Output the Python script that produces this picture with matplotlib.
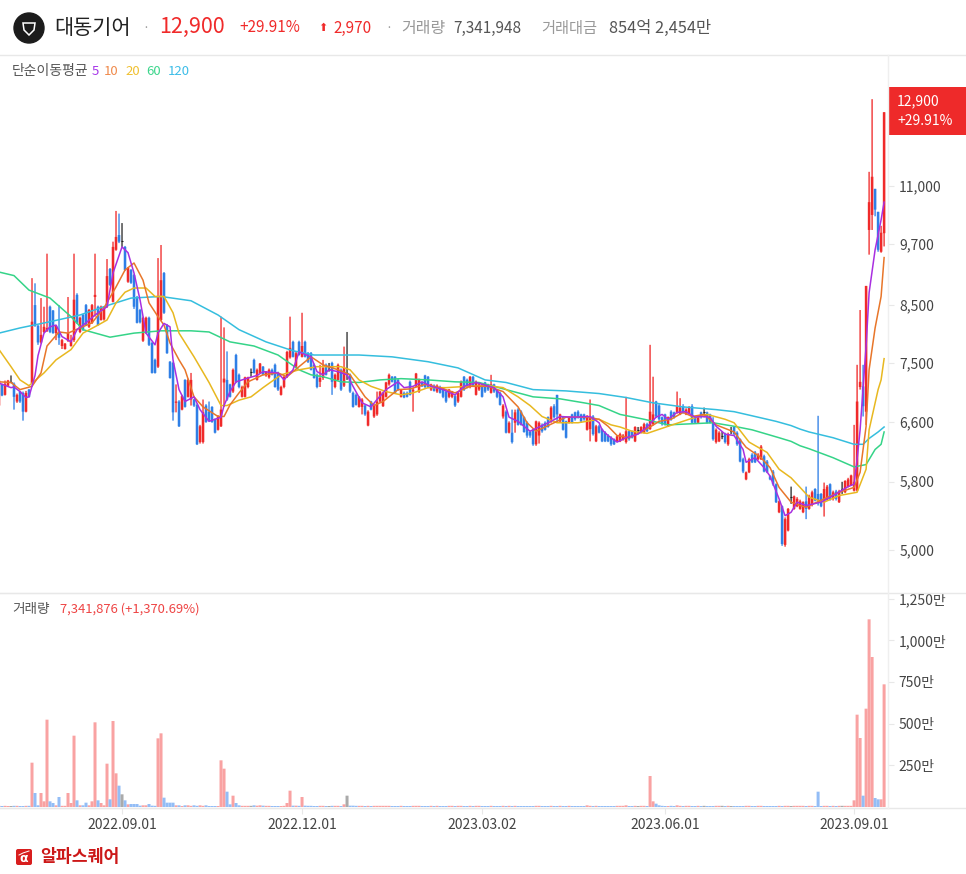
import matplotlib
matplotlib.use("Agg")
import matplotlib.pyplot as plt
from matplotlib.patches import Circle, FancyBboxPatch, Polygon, Rectangle
from matplotlib.transforms import ScaledTranslation
import numpy as np

plt.rcParams["font.family"] = ["Noto Sans CJK KR", "DejaVu Sans"]

opens = [
    6840, 7160, 7000, 7140, 7200, 7170, 6900, 7050, 7030, 6750,
    7080, 7180, 8500, 8130, 7840, 8020, 8040, 8470, 8400, 8000,
    8020, 7780, 7730, 7870, 7780, 7880, 8690, 8020, 8320, 8500,
    8110, 8180, 8650, 8470, 8230, 8240, 8470, 9190, 8560, 9580,
    9890, 9770, 9640, 8940, 9170, 9070, 8650, 8410, 7870, 8000,
    8270, 7830, 7550, 7440, 8230, 9110, 8140, 7520, 7500, 6880,
    6900, 6780, 7230, 6970, 6930, 6930, 6850, 6320, 6320, 6840,
    6750, 6820, 6640, 6490, 6540, 7190, 7230, 7160, 7050, 7630,
    7310, 6970, 6970, 7120, 7360, 7550, 7230, 7340, 7440, 7300,
    7270, 7390, 7470, 7340, 7000, 7120, 7290, 7590, 7850, 7440,
    7850, 7600, 7850, 7660, 7660, 7470, 7310, 7200, 7260, 7470,
    7410, 7500, 7120, 7230, 7390, 7140, 7340, 7310, 7030, 7000,
    6820, 6820, 6840, 6550, 6900, 6680, 6710, 6900, 6830, 6970,
    7160, 7280, 7280, 7230, 6970, 7030, 7030, 7200, 7050, 7130,
    7050, 7190, 7300, 7280, 7080, 7140, 7050, 7120, 7110, 7050,
    6970, 6970, 6980, 6900, 6970, 7280, 7230, 7120, 7280, 7000,
    7080, 7160, 7190, 7160, 7030, 7160, 7080, 7030, 6680, 6750,
    6450, 6450, 6590, 6780, 6750, 6670, 6590, 6460, 6490, 6290,
    6410, 6560, 6590, 6670, 6610, 6830, 7000, 6610, 6670, 6610,
    6590, 6710, 6740, 6750, 6710, 6710, 6490, 6500, 6680, 6330,
    6540, 6500, 6450, 6410, 6380, 6360, 6330, 6330, 6360, 6320,
    6470, 6470, 6330, 6490, 6450, 6450, 6570, 6500, 6570, 6900,
    6840, 6670, 6710, 6540, 6750, 6740, 6740, 6710, 6830, 6710,
    6720, 6830, 6670, 6590, 6740, 6750, 6740, 6710, 6590, 6320,
    6330, 6400, 6430, 6290, 6470, 6530, 6450, 6360, 6090, 5830,
    5920, 6150, 6180, 6090, 6090, 6130, 6060, 5870, 5930, 5770,
    5430, 5500, 5060, 5220, 5610, 5470, 5500, 5470, 5430, 5560,
    5470, 5520, 5710, 5650, 5650, 5550, 5580, 5770, 5590, 5680,
    5550, 5710, 5670, 5740, 5760, 5690, 5690, 7120, 7130, 6750,
    10000, 10330, 10930, 10400, 9540, 9930,
]
highs = [
    7230, 7170, 7220, 7230, 7300, 7190, 7020, 7060, 7050, 7060,
    7090, 9010, 8910, 8140, 8630, 8470, 9500, 8490, 8410, 8140,
    8500, 7900, 7830, 8650, 7970, 9500, 8720, 8290, 8340, 8520,
    8430, 8520, 9500, 8490, 8490, 8480, 9390, 9210, 9750, 10420,
    10360, 10150, 9660, 9230, 9190, 9090, 8670, 8430, 8290, 8290,
    8290, 7850, 7570, 9410, 9680, 9130, 8160, 7530, 7520, 7160,
    6920, 7000, 7240, 7250, 7340, 6940, 6870, 6560, 6930, 6860,
    6900, 6830, 6650, 6700, 8290, 8100, 7690, 7170, 7410, 7650,
    7330, 7140, 7280, 7280, 7410, 7570, 7410, 7500, 7450, 7370,
    7410, 7410, 7490, 7360, 7140, 7290, 7700, 8290, 7870, 7680,
    7870, 8360, 7870, 7680, 7680, 7490, 7330, 7470, 7550, 7490,
    7500, 7520, 7330, 7490, 7410, 7770, 8020, 7330, 7050, 7020,
    6980, 6950, 6860, 6770, 6910, 6860, 7050, 7060, 7050, 7200,
    7330, 7290, 7290, 7250, 7090, 7050, 7050, 7220, 7110, 7340,
    7250, 7200, 7310, 7290, 7170, 7160, 7160, 7140, 7120, 7060,
    7090, 7060, 7000, 7050, 7220, 7290, 7250, 7290, 7290, 7220,
    7170, 7170, 7200, 7170, 7310, 7170, 7090, 7050, 6860, 6770,
    6610, 6780, 6780, 6800, 6770, 6680, 6610, 6480, 6510, 6620,
    6610, 6580, 6610, 6680, 6830, 6860, 7000, 6720, 6680, 6620,
    6680, 6720, 6750, 6770, 6720, 6720, 6700, 6930, 6700, 6560,
    6560, 6510, 6470, 6430, 6400, 6370, 6410, 6450, 6430, 6970,
    6480, 6480, 6540, 6530, 6540, 6590, 6590, 7800, 7280, 6910,
    6860, 6680, 6720, 6680, 6770, 6750, 7050, 6950, 6860, 6800,
    6830, 6860, 6680, 6700, 6750, 6810, 6750, 6720, 6670, 6510,
    6470, 6470, 6450, 6450, 6530, 6540, 6470, 6370, 6110, 5930,
    6110, 6170, 6200, 6170, 6280, 6150, 6080, 5880, 5950, 5780,
    5570, 5510, 5370, 5480, 5740, 5630, 5610, 5580, 5560, 5740,
    5640, 5690, 5720, 6690, 5660, 5790, 5760, 5780, 5690, 5700,
    5700, 5800, 5820, 5850, 5890, 6560, 7470, 8410, 7470, 8860,
    11340, 13270, 10930, 10400, 10090, 12900,
]
lows = [
    6830, 6980, 6990, 7130, 7180, 6780, 6880, 6880, 6620, 6740,
    6960, 7170, 8110, 7800, 7820, 8000, 8020, 8000, 7990, 7880,
    7800, 7730, 7720, 7850, 7770, 7850, 8160, 8000, 8040, 8130,
    8090, 8160, 8290, 8130, 8220, 8220, 8450, 8860, 8550, 9560,
    9720, 9640, 9150, 8920, 8900, 8430, 8170, 8170, 7850, 7990,
    7780, 7330, 7330, 7420, 8210, 8340, 7650, 7250, 6620, 6740,
    6530, 6770, 6810, 6960, 6840, 6820, 6280, 6300, 6300, 6590,
    6610, 6590, 6440, 6480, 6530, 6820, 6910, 6960, 7030, 7180,
    7100, 6960, 6960, 7100, 7280, 7330, 7220, 7330, 7300, 7280,
    7250, 7300, 7110, 7060, 6990, 7100, 7260, 7570, 7590, 7420,
    7620, 7590, 7590, 7500, 7380, 7250, 7100, 7120, 7230, 7300,
    7360, 7000, 7100, 7220, 7060, 7120, 7230, 7030, 6810, 6840,
    6810, 6710, 6690, 6540, 6770, 6660, 6690, 6880, 6820, 6960,
    7140, 7190, 7020, 7060, 6960, 6950, 6960, 6990, 6750, 7120,
    7030, 7120, 7100, 7100, 7060, 7050, 7030, 7020, 6950, 6880,
    6950, 6950, 6820, 6880, 6960, 7060, 7100, 7100, 7120, 6990,
    7060, 6960, 7030, 7060, 7020, 7030, 6950, 6840, 6650, 6440,
    6440, 6300, 6450, 6550, 6550, 6450, 6380, 6380, 6270, 6270,
    6300, 6450, 6480, 6520, 6590, 6650, 6600, 6590, 6480, 6370,
    6580, 6580, 6620, 6650, 6590, 6620, 6480, 6330, 6410, 6320,
    6440, 6320, 6320, 6320, 6270, 6280, 6320, 6320, 6340, 6300,
    6340, 6370, 6320, 6430, 6440, 6440, 6460, 6490, 6550, 6660,
    6620, 6550, 6550, 6530, 6620, 6650, 6720, 6700, 6720, 6700,
    6710, 6580, 6580, 6580, 6650, 6670, 6580, 6580, 6340, 6300,
    6320, 6360, 6300, 6270, 6430, 6410, 6270, 6050, 5910, 5820,
    5910, 6040, 6040, 6080, 6080, 5920, 5910, 5820, 5750, 5540,
    5420, 5050, 5040, 5210, 5530, 5460, 5490, 5460, 5420, 5350,
    5460, 5500, 5560, 5510, 5490, 5380, 5570, 5570, 5570, 5570,
    5540, 5650, 5660, 5730, 5750, 5680, 5680, 7080, 6680, 6560,
    9480, 10000, 10300, 9540, 9520, 9650,
]
closes = [
    7220, 6990, 7170, 7220, 7200, 6970, 7000, 6900, 6750, 7030,
    6970, 8200, 8130, 7840, 7970, 8110, 8090, 8020, 8000, 8130,
    7920, 7880, 7820, 8000, 7870, 8600, 8180, 8270, 8060, 8140,
    8410, 8500, 8690, 8140, 8470, 8460, 9050, 8880, 9640, 9850,
    9750, 9770, 9170, 9210, 8920, 8470, 8180, 8190, 8270, 8270,
    7800, 7340, 7340, 8670, 8970, 8360, 7660, 7260, 6740, 6900,
    6540, 6980, 6820, 7230, 7230, 6840, 6290, 6540, 6740, 6600,
    6620, 6600, 6450, 6680, 6780, 7250, 6930, 6970, 7390, 7200,
    7120, 7120, 7270, 7270, 7360, 7340, 7390, 7490, 7310, 7360,
    7390, 7310, 7120, 7080, 7120, 7280, 7680, 7750, 7600, 7660,
    7630, 7780, 7600, 7520, 7390, 7260, 7120, 7260, 7420, 7310,
    7410, 7200, 7310, 7470, 7080, 7420, 7340, 7050, 6820, 6850,
    6970, 6930, 6710, 6750, 6780, 6840, 6900, 7050, 7030, 7190,
    7310, 7200, 7030, 7080, 7080, 6960, 6970, 7000, 7080, 7330,
    7230, 7130, 7120, 7120, 7160, 7060, 7140, 7030, 6970, 6900,
    7080, 7050, 6840, 7030, 7200, 7080, 7120, 7280, 7130, 7200,
    7160, 6970, 7050, 7080, 7160, 7050, 6970, 6850, 6840, 6450,
    6590, 6320, 6740, 6560, 6560, 6460, 6410, 6410, 6290, 6610,
    6590, 6470, 6490, 6530, 6810, 6670, 6710, 6710, 6490, 6380,
    6670, 6590, 6640, 6670, 6610, 6640, 6680, 6680, 6430, 6540,
    6450, 6330, 6330, 6330, 6290, 6290, 6400, 6430, 6410, 6470,
    6360, 6380, 6530, 6490, 6530, 6570, 6470, 6750, 6710, 6680,
    6640, 6570, 6570, 6670, 6640, 6670, 6830, 6810, 6740, 6780,
    6810, 6590, 6590, 6680, 6670, 6750, 6590, 6590, 6360, 6490,
    6450, 6400, 6320, 6430, 6470, 6430, 6290, 6060, 5930, 5920,
    6090, 6050, 6050, 6150, 6260, 5930, 5920, 5830, 5770, 5550,
    5560, 5070, 5350, 5470, 5610, 5620, 5590, 5560, 5550, 5470,
    5620, 5670, 5570, 5570, 5500, 5710, 5740, 5590, 5670, 5590,
    5680, 5710, 5810, 5830, 5880, 5800, 6900, 7200, 6830, 8860,
    10620, 11220, 10450, 9580, 9940, 12900,
]
# volume in 만 (10,000 shares)
volumes = [
    7, 6, 7, 6, 6, 7, 7, 6, 6, 7,
    7, 266, 84, 10, 84, 34, 524, 34, 24, 10,
    60, 7, 7, 84, 24, 428, 40, 10, 10, 26,
    10, 34, 508, 40, 24, 10, 260, 46, 516, 202,
    128, 76, 40, 16, 18, 18, 18, 8, 10, 10,
    18, 8, 7, 412, 442, 56, 26, 26, 26, 10,
    10, 6, 10, 10, 7, 10, 7, 10, 7, 10,
    6, 6, 6, 6, 280, 230, 92, 16, 68, 24,
    10, 7, 7, 7, 7, 10, 8, 10, 8, 7,
    7, 6, 6, 6, 6, 7, 24, 98, 8, 8,
    7, 60, 8, 7, 7, 6, 6, 7, 7, 6,
    6, 7, 7, 7, 6, 16, 68, 8, 8, 7,
    7, 7, 6, 7, 6, 7, 7, 7, 7, 7,
    7, 6, 6, 6, 7, 6, 6, 6, 7, 7,
    7, 6, 6, 6, 7, 6, 7, 6, 6, 6,
    7, 7, 6, 7, 7, 6, 6, 7, 6, 7,
    7, 6, 6, 6, 7, 6, 6, 6, 7, 6,
    7, 6, 7, 6, 6, 6, 6, 6, 6, 7,
    7, 6, 6, 6, 7, 6, 6, 7, 6, 6,
    7, 6, 6, 6, 6, 6, 10, 7, 6, 7,
    6, 6, 6, 6, 6, 6, 7, 7, 7, 10,
    6, 6, 7, 6, 7, 7, 6, 186, 34, 20,
    10, 7, 6, 6, 7, 6, 10, 7, 6, 7,
    7, 6, 6, 7, 6, 7, 6, 6, 6, 7,
    7, 7, 6, 7, 6, 6, 6, 6, 6, 7,
    7, 6, 6, 7, 7, 6, 6, 6, 6, 6,
    7, 6, 7, 7, 6, 7, 7, 7, 7, 6,
    7, 7, 6, 92, 6, 7, 7, 6, 7, 6,
    7, 7, 7, 7, 7, 40, 554, 414, 68, 590,
    1126, 900, 54, 46, 46, 736,
]

# moving averages, (day, price)
ma5 = [
    (0, 7180), (4, 7110), (5, 7120), (7, 7050), (9, 6960), (10, 6970), (12, 7300), (13, 7620),
    (15, 8000), (17, 8110), (19, 8140), (21, 7940), (24, 7850), (26, 8060), (29, 8180), (32, 8320),
    (36, 8470), (38, 9110), (41, 9640), (43, 9520), (45, 9110), (47, 8600), (49, 8000), (52, 7800),
    (53, 8000), (55, 8170), (57, 8110), (58, 7550), (60, 7080), (62, 6900), (65, 6970), (67, 6780),
    (70, 6610), (74, 6670), (75, 6840), (77, 7050), (79, 7200), (83, 7260), (86, 7300), (88, 7360),
    (93, 7340), (95, 7230), (98, 7390), (100, 7680), (104, 7600), (106, 7360), (108, 7310), (110, 7390),
    (113, 7360), (116, 7310), (118, 7130), (121, 6880), (124, 6820), (126, 6930), (129, 7080), (133, 7200),
    (135, 7110), (138, 7130), (141, 7200), (144, 7130), (148, 7080), (152, 7000), (155, 7130), (159, 7190),
    (165, 7110), (168, 6970), (170, 6670), (173, 6610), (177, 6470), (180, 6530), (184, 6610), (187, 6680),
    (191, 6670), (197, 6680), (200, 6590), (201, 6490), (203, 6410), (206, 6320), (209, 6380), (213, 6430),
    (216, 6530), (219, 6670), (221, 6710), (223, 6640), (226, 6740), (229, 6750), (232, 6670), (234, 6680),
    (237, 6670), (239, 6540), (242, 6430), (245, 6410), (248, 6220), (249, 6050), (252, 6110), (255, 5980),
    (257, 5870), (260, 5590), (262, 5390), (264, 5430), (266, 5550), (269, 5510), (274, 5550), (278, 5630),
    (283, 5740), (285, 5770), (286, 6090), (287, 6490), (289, 7780), (290, 8730), (292, 9580), (294, 10220),
    (295, 10620),
]
ma10 = [
    (0, 7200), (4, 7190), (7, 7080), (11, 7130), (14, 7340), (16, 7780), (20, 8020), (23, 8000),
    (27, 8090), (31, 8180), (35, 8450), (39, 8840), (42, 9170), (45, 9310), (48, 8970), (50, 8540),
    (53, 8290), (55, 8140), (57, 7830), (60, 7550), (62, 7390), (65, 6970), (68, 6820), (73, 6680),
    (75, 6680), (77, 6850), (80, 7030), (83, 7200), (88, 7310), (93, 7340), (96, 7280), (100, 7440),
    (104, 7600), (108, 7470), (113, 7390), (117, 7310), (122, 6970), (125, 6840), (128, 6900), (133, 7080),
    (137, 7090), (142, 7160), (147, 7110), (152, 7030), (157, 7130), (163, 7130), (168, 7050), (173, 6820),
    (176, 6590), (179, 6470), (185, 6590), (189, 6670), (196, 6670), (200, 6640), (203, 6540), (206, 6410),
    (210, 6380), (214, 6460), (217, 6530), (220, 6610), (224, 6640), (228, 6740), (231, 6680), (235, 6710),
    (239, 6560), (245, 6460), (249, 6250), (254, 6110), (257, 5980), (260, 5730), (264, 5550), (267, 5510),
    (269, 5490), (275, 5590), (280, 5670), (285, 5730), (287, 5920), (289, 6540), (290, 7390), (292, 8090),
    (294, 8660), (295, 9420),
]
ma20 = [
    (0, 7720), (4, 7440), (7, 7230), (10, 7140), (15, 7340), (19, 7550), (24, 7720), (28, 8000),
    (33, 8140), (36, 8230), (39, 8540), (42, 8740), (45, 8820), (49, 8820), (52, 8660), (55, 8660),
    (58, 8360), (60, 8000), (65, 7600), (70, 7190), (74, 6840), (76, 6840), (80, 6920), (84, 6970),
    (88, 7110), (94, 7310), (100, 7390), (106, 7440), (114, 7440), (117, 7390), (120, 7230), (124, 7130),
    (129, 7050), (134, 7000), (138, 7030), (143, 7110), (149, 7110), (156, 7130), (163, 7140), (168, 7110),
    (173, 6970), (177, 6840), (181, 6680), (186, 6590), (193, 6590), (200, 6640), (204, 6560), (207, 6530),
    (211, 6470), (216, 6440), (223, 6540), (230, 6640), (236, 6710), (242, 6640), (245, 6590), (250, 6320),
    (256, 6180), (260, 5960), (264, 5850), (267, 5730), (270, 5610), (275, 5550), (280, 5630), (286, 5670),
    (289, 5960), (290, 6490), (293, 7080), (294, 7230), (295, 7570),
]
ma60 = [
    (0, 9130), (5, 9060), (10, 8780), (17, 8630), (24, 8290), (28, 8060), (37, 7930), (45, 8000),
    (54, 8040), (64, 8040), (70, 8020), (77, 7850), (85, 7780), (93, 7630), (100, 7390), (104, 7310),
    (108, 7280), (114, 7200), (120, 7190), (127, 7230), (134, 7250), (143, 7230), (152, 7200), (160, 7190),
    (169, 7080), (178, 6970), (187, 6940), (195, 6880), (200, 6840), (207, 6710), (215, 6640), (223, 6560),
    (233, 6580), (238, 6590), (245, 6540), (251, 6490), (260, 6380), (264, 6330), (267, 6270), (270, 6230),
    (278, 6110), (285, 5990), (289, 6020), (292, 6220), (294, 6290), (295, 6460),
]
ma120 = [
    (0, 8000), (7, 8090), (17, 8200), (27, 8320), (36, 8490), (44, 8630), (54, 8660), (64, 8580),
    (73, 8320), (80, 8060), (89, 7850), (98, 7700), (100, 7680), (105, 7630), (120, 7630), (131, 7600),
    (143, 7520), (153, 7420), (162, 7230), (169, 7190), (178, 7080), (189, 7060), (200, 7020), (209, 6960),
    (218, 6880), (228, 6820), (239, 6780), (245, 6750), (252, 6680), (259, 6610), (264, 6550), (267, 6500),
    (270, 6460), (278, 6380), (285, 6290), (288, 6290), (290, 6370), (293, 6460), (295, 6530),
]

price_ticks = [5000, 5800, 6600, 7500, 8500, 9700, 11000]
volume_ticks = [250, 500, 750, 1000, 1250]
date_days = [41, 101, 161, 222, 285]
date_labels = ["2022.09.01", "2022.12.01", "2023.03.02", "2023.06.01", "2023.09.01"]

RED = "#f02a2a"
BLUE = "#2f7fe6"
GRID = "#e8e8e8"
TXT = "#444444"


def unzip(l):
    return list(zip(*l))


W, H = 966, 874
fig = plt.figure(figsize=(W / 100, H / 100), dpi=100, facecolor="white")


def px_axes(x0, y0, x1, y1):
    return fig.add_axes([x0 / W, 1 - y1 / H, (x1 - x0) / W, (y1 - y0) / H])


def nudge_up(labels, px):
    # tick labels sit a pixel or so too low otherwise
    offset = ScaledTranslation(0, px / 100, fig.dpi_scale_trans)
    for label in labels:
        label.set_transform(label.get_transform() + offset)


opens, highs, lows, closes = map(np.array, (opens, highs, lows, closes))
volumes = np.array(volumes)
days = np.arange(len(closes))
up = closes > opens
down = closes < opens
flat = closes == opens

# price panel
ax = px_axes(0, 55, 888, 593)
ax.set_yscale("log")
ax.set_xlim(1 / 3, 296.3)
ax.set_ylim(4560, 14600)

ax.vlines(days[up], lows[up], highs[up], color=RED, lw=0.95, zorder=2, snap=False)
ax.vlines(days[down], lows[down], highs[down], color=BLUE, lw=0.95, zorder=2, snap=False)
ax.vlines(days[flat], lows[flat], highs[flat], color="#222222", lw=0.9, zorder=2, snap=False)
up_bars = ax.bar(days[up], (closes - opens)[up], bottom=opens[up], width=0.85, color=RED, lw=0, zorder=2)
down_bars = ax.bar(days[down], (opens - closes)[down], bottom=closes[down], width=0.85, color=BLUE, lw=0, zorder=2)
for rect in list(up_bars) + list(down_bars):
    rect.set_snap(False)
ax.hlines(closes[flat], days[flat] - 0.4, days[flat] + 0.4, color="#222222", lw=0.8, zorder=2)

for series, col in [(ma120, "#35bede"), (ma60, "#35d488"), (ma20, "#e8b820"), (ma10, "#e8762a"), (ma5, "#a92fe0")]:
    xs, ys = unzip(series)
    ax.plot(xs, ys, color=col, lw=1.1, zorder=3, solid_joinstyle="round")

ax.yaxis.tick_right()
ax.set_yticks(price_ticks)
ax.set_yticklabels([f"{t:,}" for t in price_ticks], fontsize=10, color=TXT)
ax.minorticks_off()
ax.tick_params(axis="y", length=4, color=GRID, pad=4)
nudge_up(ax.get_yticklabels(), 0.5)
ax.set_xticks([])
for name, sp in ax.spines.items():
    sp.set_visible(False)

# volume panel
vax = px_axes(0, 593, 888, 808)
vax.set_xlim(1 / 3, 296.3)
vax.set_ylim(-6, 1284)
for mask, col in [(up, "#f9a2a2"), (down, "#93bdf6"), (flat, "#aaaaaa")]:
    bars = vax.bar(days[mask], volumes[mask], width=1.0, color=col, lw=0)
    for rect in bars:
        rect.set_snap(False)
vax.yaxis.tick_right()
vax.set_yticks(volume_ticks)
vax.set_yticklabels([f"{t:,}만" for t in volume_ticks], fontsize=10, color=TXT)
vax.tick_params(axis="y", length=4, color=GRID, pad=3.5)
vax.set_xticks(date_days)
vax.set_xticklabels(date_labels, fontsize=10, color=TXT)
vax.tick_params(axis="x", length=4, color=GRID, pad=3.5)
for name, sp in vax.spines.items():
    sp.set_visible(False)
vax.spines["bottom"].set_visible(True)
vax.spines["bottom"].set_color(GRID)
vax.spines["top"].set_visible(True)
vax.spines["top"].set_color(GRID)

# everything around the panels, placed in pixels
top = fig.add_axes([0, 0, 1, 1], zorder=5)
top.set_xlim(0, W)
top.set_ylim(H, 0)
top.axis("off")
top.patch.set_alpha(0)

top.plot([0, W], [54.5, 54.5], color=GRID, lw=1)
top.plot([0, W], [593, 593], color=GRID, lw=1)
top.plot([0, W], [808, 808], color=GRID, lw=1)
top.plot([888, 888], [55, 808], color="#efefef", lw=1)

# header
top.add_patch(Circle((29, 28), 15, color="#1c1c1c"))
top.add_patch(Polygon([(23, 23), (35, 23), (34, 30), (29, 35), (24, 30)], fc="none", ec="white", lw=1.1))
top.text(54, 28, "대동기어", fontsize=15, color="#222222", va="center")
top.text(146, 28, "·", fontsize=9, color="#999999", va="center", ha="center")
top.text(159, 27, "12,900", fontsize=15.5, color=RED, va="center")
top.text(239, 28, "+29.91%", fontsize=11, color=RED, va="center")
top.text(323, 28, "⬆", fontsize=8, color=RED, va="center", ha="center", family="DejaVu Sans")
top.text(333, 28, "2,970", fontsize=11, color=RED, va="center")
top.text(389, 28, "·", fontsize=9, color="#999999", va="center", ha="center")
top.text(401, 28, "거래량", fontsize=11.5, color="#999999", va="center")
top.text(453, 28, "7,341,948", fontsize=11, color="#555555", va="center")
top.text(541, 28, "거래대금", fontsize=11, color="#999999", va="center")
top.text(609, 28, "854억 2,454만", fontsize=11.8, color="#555555", va="center")

# moving average legend
top.text(12, 71.5, "단순이동평균", fontsize=10, color="#555555", va="center")
for label, x, col in [("5", 92, "#a637e8"), ("10", 104, "#f08a4b"), ("20", 125, "#f0c030"),
                      ("60", 146, "#3dd68c"), ("120", 168, "#3dbde8")]:
    top.text(x, 71.5, label, fontsize=9.5, color=col, va="center")

# last price box
top.add_patch(Rectangle((888, 87), 78, 48, color="#ee2a2a", lw=0))
top.text(897, 101, "12,900", fontsize=10, color="white", va="center")
top.text(897, 121, "+29.91%", fontsize=10, color="white", va="center")

# volume caption
top.text(12, 609, "거래량", fontsize=9.8, color="#555555", va="center")
top.text(60, 609, "7,341,876 (+1,370.69%)", fontsize=9.4, color="#ee4444", va="center")

# brand mark
top.add_patch(FancyBboxPatch((16, 849), 16, 16, boxstyle="round,pad=0,rounding_size=2", fc="#d81e1e", ec="none"))
top.plot([19, 23, 29], [855, 853, 851], color="white", lw=0.7)
top.text(24, 859, "α", fontsize=9, color="white", ha="center", va="center", family="DejaVu Sans", weight="bold")
top.text(40, 857, "알파스퀘어", fontsize=12.4, color="#cc1818", va="center", weight="bold")

fig.savefig("out.png", dpi=100)
